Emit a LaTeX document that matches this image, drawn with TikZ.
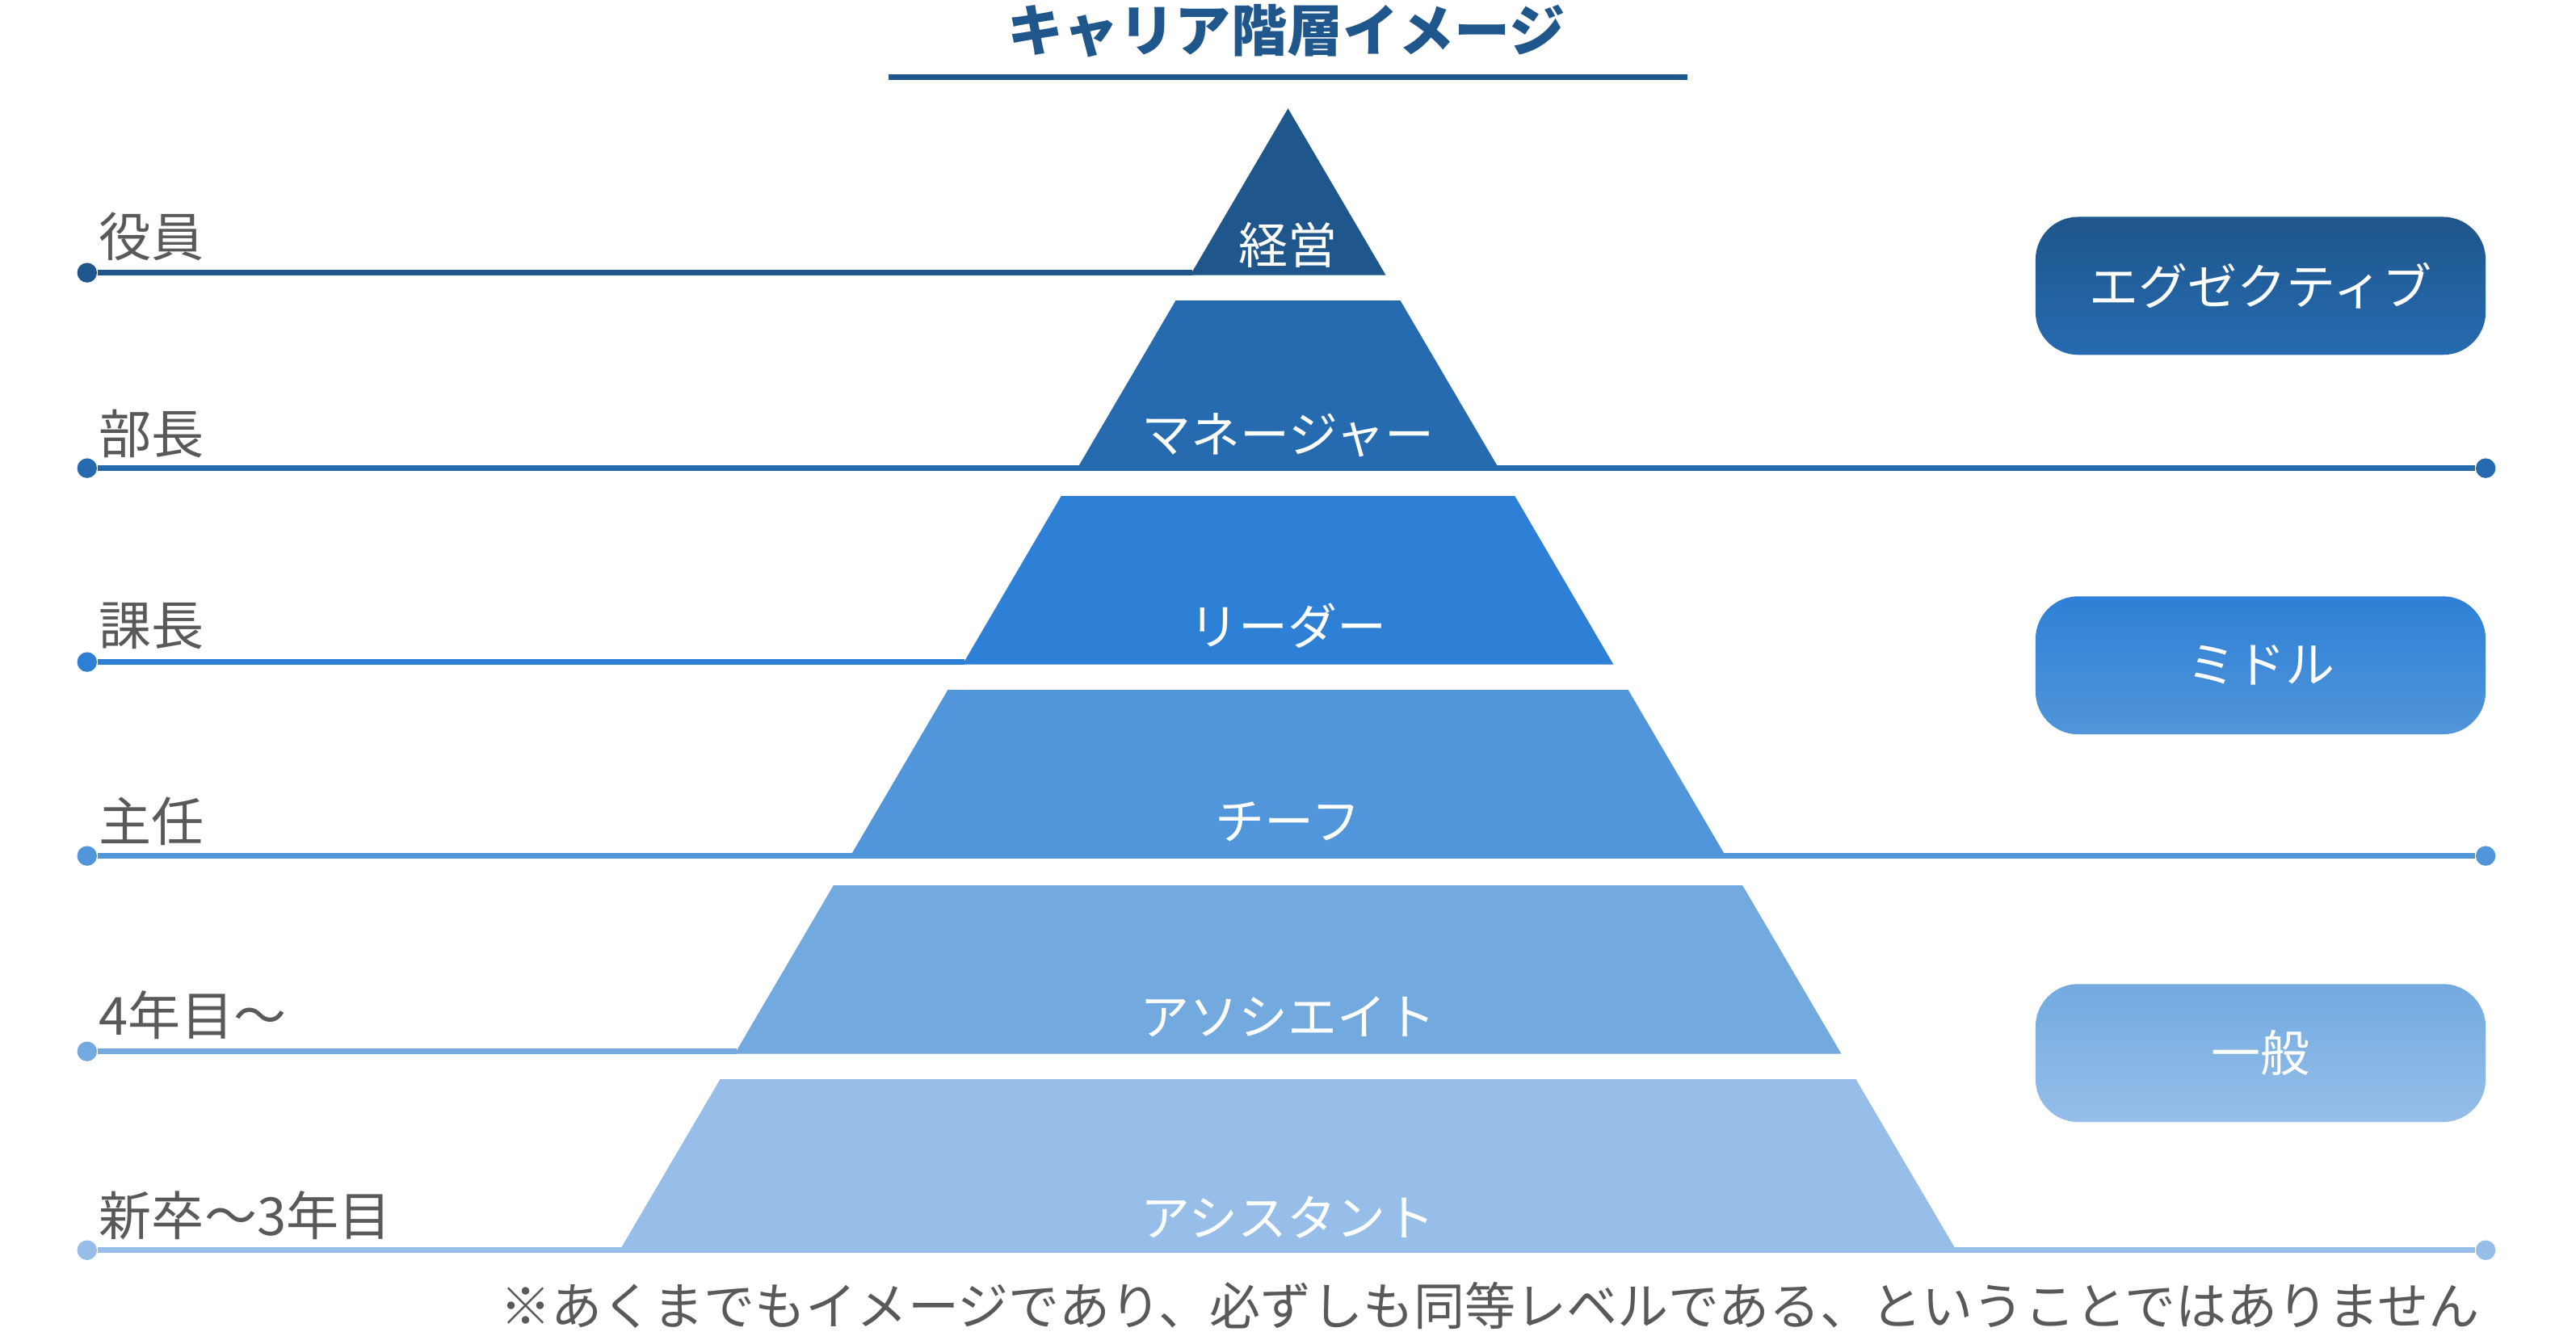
\documentclass[tikz,border=0pt]{standalone}
\usepackage{fontspec}
\newfontfamily\jpfont{Noto Sans CJK JP}
\usepackage{tikz}

\definecolor{lvA}{HTML}{1F568C}
\definecolor{lvB}{HTML}{266BB0}
\definecolor{lvC}{HTML}{2E80D6}
\definecolor{lvD}{HTML}{5195DA}
\definecolor{lvE}{HTML}{72AAE0}
\definecolor{lvF}{HTML}{96BEE9}
\definecolor{txtgray}{HTML}{595959}

\tikzset{
  rank/.style={anchor=west,inner sep=0pt,text=txtgray,font=\jpfont\fontsize{16pt}{16pt}\selectfont},
  layer/.style={inner sep=0pt,text=white,font=\jpfont\fontsize{15pt}{15pt}\selectfont},
  dot/.style={circle,fill=#1,inner sep=0pt,minimum size=6pt},
  rail/.style={draw=#1,line width=1.75pt},
  group/.style={rounded corners=13pt,minimum width=137pt,minimum height=42pt,
    text=white,font=\jpfont\fontsize{15pt}{15pt}\selectfont}
}

\begin{document}
\begin{tikzpicture}[x=0.5pt,y=-0.5pt]
    \useasboundingbox (0,0) rectangle (1568,813);

    % title
    \node[inner sep=0pt,text=lvA,font=\jpfont\bfseries\fontsize{17pt}{17pt}\selectfont] (title) at (783,19) {キャリア階層イメージ};
    \draw[lvA,line width=1.75pt] (541,47) -- (1027,47);

    % rails with dots
    \node[dot=lvA] (l1) at (53,166) {};
    \node[dot=lvB] (l2) at (53,285) {};
    \node[dot=lvB] (r2) at (1513,285) {};
    \node[dot=lvC] (l3) at (53,403) {};
    \node[dot=lvD] (l4) at (53,521) {};
    \node[dot=lvD] (r4) at (1513,521) {};
    \node[dot=lvE] (l5) at (53,640) {};
    \node[dot=lvF] (l6) at (53,761) {};
    \node[dot=lvF] (r6) at (1513,761) {};
    \coordinate (p1) at (725.5,166);
    \coordinate (p3) at (586.9,403);
    \coordinate (p5) at (448.2,640);
    \draw[rail=lvA] (l1) -- (p1);
    \draw[rail=lvB] (l2) -- (r2);
    \draw[rail=lvC] (l3) -- (p3);
    \draw[rail=lvD] (l4) -- (r4);
    \draw[rail=lvE] (l5) -- (p5);
    \draw[rail=lvF] (l6) -- (r6);

    % pyramid
    \fill[lvA] (784,66) -- (843.5,167.5) -- (724.5,167.5) -- cycle;
    \fill[lvB] (715.6,183) -- (852.4,183) -- (913.1,286.5) -- (654.9,286.5) -- cycle;
    \fill[lvC] (645.9,302) -- (922.1,302) -- (982.1,404.5) -- (585.9,404.5) -- cycle;
    \fill[lvD] (576.9,420) -- (991.1,420) -- (1051.2,522.5) -- (516.8,522.5) -- cycle;
    \fill[lvE] (507.3,539) -- (1060.7,539) -- (1120.8,641.5) -- (447.2,641.5) -- cycle;
    \fill[lvF] (438.3,657) -- (1129.7,657) -- (1191.6,762.5) -- (376.4,762.5) -- cycle;

    \node[layer] (t1) at (784,149) {経営};
    \node[layer] (t2) at (784,265) {マネージャー};
    \node[layer] (t3) at (784,381) {リーダー};
    \node[layer] (t4) at (784,500) {チーフ};
    \node[layer] (t5) at (784,619) {アソシエイト};
    \node[layer] (t6) at (784,741) {アシスタント};

    % ranks
    \node[rank] (k1) at (60,144) {役員};
    \node[rank] (k2) at (60,264) {部長};
    \node[rank] (k3) at (60,381) {課長};
    \node[rank] (k4) at (60,500) {主任};
    \node[rank] (k5) at (60,618) {4年目～};
    \node[rank] (k6) at (60,740) {新卒～3年目};

    % groups
    \node[group,top color=lvA,middle color=lvA,bottom color=lvB] (exec) at (1376,174) {エグゼクティブ};
    \node[group,top color=lvC,middle color=lvC,bottom color=lvD] (mid) at (1376,405) {ミドル};
    \node[group,top color=lvE,middle color=lvE,bottom color=lvF] (gen) at (1376,641) {一般};

    % note
    \node[inner sep=0pt,text=txtgray,font=\jpfont\fontsize{15.5pt}{15.5pt}\selectfont] (note) at (907,795)
      {※あくまでもイメージであり、必ずしも同等レベルである、ということではありません};
\end{tikzpicture}
\end{document}
